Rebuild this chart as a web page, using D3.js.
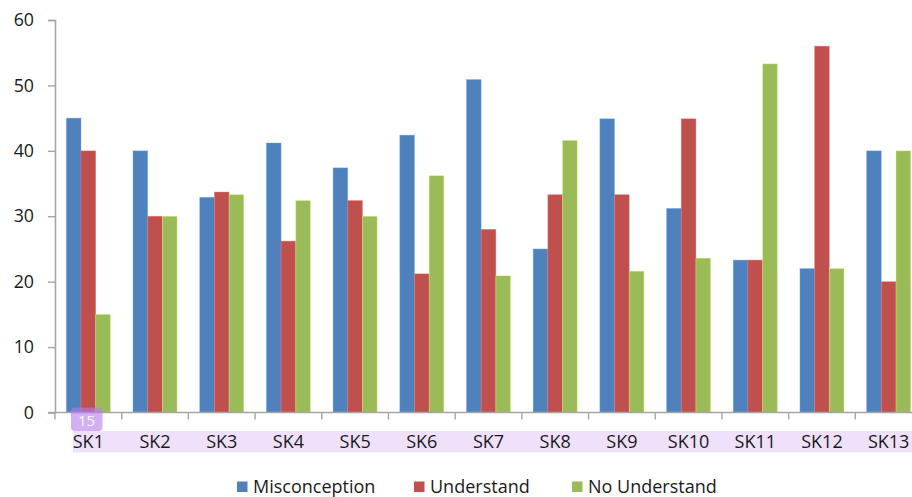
<!DOCTYPE html>
<html>
<head>
<meta charset="utf-8">
<script src="https://cdn.jsdelivr.net/npm/d3@7"></script>
<style>
  html, body { margin: 0; padding: 0; background: #fff; }
  svg { display: block; }
  text { font-family: "Open Sans", "Liberation Sans", sans-serif; fill: #1a1a1a; }
</style>
</head>
<body>
<svg id="chart" width="912" height="497"></svg>
<script>
// Categories, series and ticks
const categories = ["SK1","SK2","SK3","SK4","SK5","SK6","SK7","SK8","SK9","SK10","SK11","SK12","SK13"];
const misconception = [45, 40, 32.9, 41.2, 37.4, 42.4, 50.9, 25, 44.9, 31.2, 23.3, 22, 40];
const understand    = [40, 30, 33.7, 26.2, 32.4, 21.2, 28, 33.3, 33.3, 44.9, 23.3, 56, 20];
const noUnderstand  = [15, 30, 33.3, 32.4, 30, 36.2, 20.9, 41.6, 21.6, 23.6, 53.3, 22, 40];
const seriesNames = ["Misconception", "Understand", "No Understand"];
const seriesColors = ["#4f81bd", "#c0504d", "#9bbb59"];
const yTicks = [0, 10, 20, 30, 40, 50, 60];
const pageBadge = "15";

const seriesValues = [misconception, understand, noUnderstand];
const rows = categories.map((c, i) => ({ cat: c, vals: seriesValues.map(s => s[i]) }));

const svg = d3.select("#chart");
const plotLeft = 55, plotRight = 922, plotTop = 20, plotBottom = 412.5;

const x = d3.scaleBand().domain(categories).range([plotLeft, plotRight]).paddingInner(0).paddingOuter(0);
const xInner = d3.scaleBand().domain(seriesNames)
  .range([0, x.bandwidth()]).paddingInner(0).paddingOuter(0.77);
const y = d3.scaleLinear().domain([0, 60]).range([plotBottom, plotTop]);

// Highlight band behind category labels
svg.append("rect")
  .attr("x", 73).attr("y", 431).attr("width", 912 - 73).attr("height", 21.5)
  .attr("fill", "#efe1fc");

// Bars
const groups = svg.append("g").selectAll("g").data(rows).join("g")
  .attr("transform", d => `translate(${x(d.cat)},0)`);
groups.selectAll("rect")
  .data(d => d.vals.map((v, k) => ({ name: seriesNames[k], v, k })))
  .join("rect")
  .attr("x", d => xInner(d.name))
  .attr("width", xInner.bandwidth())
  .attr("y", d => y(d.v))
  .attr("height", d => y(0) - y(d.v))
  .attr("fill", d => seriesColors[d.k])
  .attr("stroke", d => d3.color(seriesColors[d.k]).brighter(0.9))
  .attr("stroke-opacity", 0.45)
  .attr("stroke-width", 0.8);

// Y axis
const yAxis = svg.append("g").attr("transform", `translate(${plotLeft},0)`)
  .call(d3.axisLeft(y).tickValues(yTicks).tickSize(7).tickPadding(14).tickFormat(d3.format("d")));
yAxis.select(".domain").attr("stroke", "#a6a6a6").attr("stroke-width", 1.6);
yAxis.selectAll(".tick line").attr("stroke", "#a6a6a6").attr("stroke-width", 1.4);
yAxis.selectAll(".tick text").attr("font-size", 17.8).attr("fill", "#1a1a1a")
  .attr("font-family", "\"Open Sans\", sans-serif");

// X axis baseline with ticks at category boundaries
const xAxisG = svg.append("g");
xAxisG.append("line")
  .attr("x1", plotLeft - 7).attr("x2", plotRight).attr("y1", y(0)).attr("y2", y(0))
  .attr("stroke", "#a6a6a6").attr("stroke-width", 1.6);
const bounds = categories.map(c => x(c)).concat([x(categories[categories.length - 1]) + x.bandwidth()]);
xAxisG.selectAll("line.tk").data(bounds).join("line").attr("class", "tk")
  .attr("x1", d => d).attr("x2", d => d)
  .attr("y1", y(0)).attr("y2", y(0) + 7)
  .attr("stroke", "#a6a6a6").attr("stroke-width", 1.4);
xAxisG.selectAll("text").data(categories).join("text")
  .attr("x", d => x(d) + x.bandwidth() / 2)
  .attr("y", 448)
  .attr("text-anchor", "middle")
  .attr("font-size", 18)
  .attr("fill", "#2a2233")
  .text(d => d);

// Page badge
svg.append("rect")
  .attr("x", 71).attr("y", 407.5).attr("width", 31.5).attr("height", 23.5).attr("rx", 4)
  .attr("fill", "#b57cf0").attr("fill-opacity", 0.6);
svg.append("text")
  .attr("x", 86.5).attr("y", 425.5).attr("text-anchor", "middle")
  .attr("font-size", 15).style("fill", "#ffffff").attr("fill-opacity", 0.9)
  .text(pageBadge);

// Legend
const legendX = [237, 414, 572];
const legend = svg.append("g").selectAll("g").data(seriesNames).join("g")
  .attr("transform", (d, i) => `translate(${legendX[i]},481.5)`);
legend.append("rect").attr("width", 10.5).attr("height", 10.5)
  .attr("fill", (d, i) => seriesColors[i]);
legend.append("text").attr("x", 16).attr("y", 11.8)
  .attr("font-size", 18).text(d => d);
</script>
</body>
</html>
